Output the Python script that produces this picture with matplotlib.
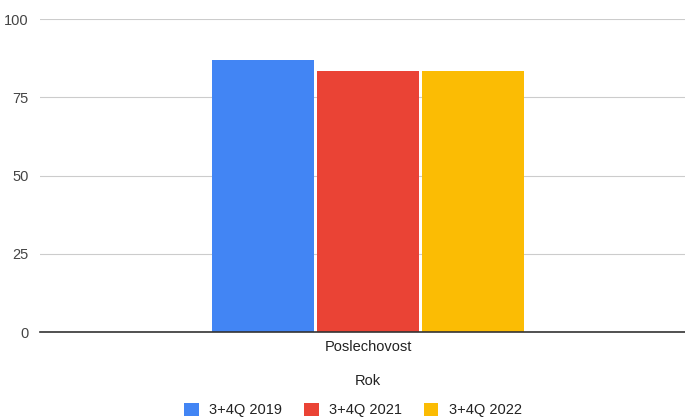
import numpy as np
import matplotlib.pyplot as plt

categories = ['Poslechovost']
series = ['3+4Q 2019', '3+4Q 2021', '3+4Q 2022']
values = [87.0, 83.4, 83.4]
colors = ['#4285f4', '#ea4335', '#fbbc04']
yticks = [0, 25, 50, 75, 100]

plt.rcParams['font.family'] = ['Liberation Sans', 'DejaVu Sans']

fig = plt.figure(figsize=(6.85, 4.18), dpi=100)
ax = fig.add_axes([40 / 685, 1 - 332 / 418, 1 - 40 / 685, (332 - 19) / 418])

w = 102 / 645
gap = 3 / 645
offsets = (np.arange(len(series)) - 1) * (w + gap)
for i, (s, v, c) in enumerate(zip(series, values, colors)):
    ax.bar(offsets[i], v, width=w, color=c, label=s, zorder=3)

ax.set_xlim(-328 / 645, 317 / 645)
ax.set_ylim(0, 100)
ax.set_yticks(yticks)
ax.set_xticks([0])
ax.set_xticklabels(categories)
ax.grid(axis='y', color='#cccccc', linewidth=0.8, zorder=0)
ax.axhline(0, color='#333333', linewidth=1.2, zorder=4, clip_on=False)
for sp in ax.spines.values():
    sp.set_visible(False)
ax.tick_params(axis='both', length=0, labelsize=10.5, colors='#444444', pad=8)
ax.tick_params(axis='x', colors='#222222', pad=6)
ax.set_xlabel('Rok', fontsize=10.5, color='#222222')
ax.xaxis.set_label_coords(328 / 645, -(381 - 332) / 313, transform=ax.transAxes)
ax.xaxis.label.set_verticalalignment('center')

ax.legend(loc='center', bbox_to_anchor=(353 / 685, 1 - 410 / 418), bbox_transform=fig.transFigure,
          ncol=3, frameon=False, fontsize=10.5, handlelength=1.0, handleheight=1.0,
          columnspacing=1.5, handletextpad=0.7, labelcolor='#222222', borderaxespad=0)

fig.savefig('out.png', dpi=100)
